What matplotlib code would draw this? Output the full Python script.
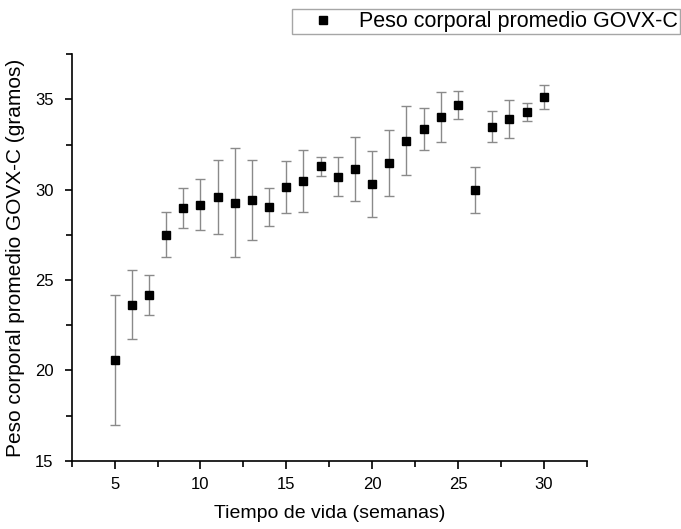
import matplotlib.pyplot as plt
from matplotlib.ticker import MultipleLocator

plt.rcParams['font.family'] = ['Liberation Sans', 'DejaVu Sans']

semanas = [5, 6, 7, 8, 9, 10, 11, 12, 13, 14, 15, 16, 17,
           18, 19, 20, 21, 22, 23, 24, 25, 26, 27, 28, 29, 30]
peso = [20.58, 23.64, 24.17, 27.51, 28.99, 29.18, 29.60, 29.29, 29.42,
        29.03, 30.16, 30.47, 31.30, 30.73, 31.13, 30.30, 31.50, 32.72,
        33.37, 34.03, 34.68, 30.01, 33.49, 33.92, 34.31, 35.14]
error = [3.6, 1.9, 1.12, 1.25, 1.08, 1.42, 2.03, 3.03, 2.2, 1.04, 1.43,
         1.72, 0.53, 1.1, 1.78, 1.82, 1.82, 1.92, 1.18, 1.38, 0.77, 1.27,
         0.86, 1.07, 0.51, 0.65]

fig = plt.figure(figsize=(6.81, 5.29), dpi=100)
ax = fig.add_axes([0.1053, 0.1291, 0.7562, 0.7683])

ax.errorbar(semanas, peso, yerr=error, fmt='none', ecolor='#8a8a8a',
            elinewidth=1, capsize=3.3, capthick=1, zorder=2)
ax.plot(semanas, peso, 's', color='black', markersize=5.8, zorder=3,
        label='Peso corporal promedio GOVX-C')

ax.set_xlim(2.5, 32.5)
ax.set_ylim(15, 37.5)
ax.xaxis.set_major_locator(MultipleLocator(5))
ax.xaxis.set_minor_locator(MultipleLocator(2.5))
ax.yaxis.set_major_locator(MultipleLocator(5))
ax.yaxis.set_minor_locator(MultipleLocator(2.5))

for s in ['top', 'right']:
    ax.spines[s].set_visible(False)
for s in ['left', 'bottom']:
    ax.spines[s].set_linewidth(1.2)

ax.tick_params(axis='x', which='major', length=6, width=1.2, pad=6, labelsize=12)
ax.tick_params(axis='x', which='minor', length=4, width=1.2)
ax.tick_params(axis='y', which='major', length=5, width=1.2, pad=8, labelsize=12)
ax.tick_params(axis='y', which='minor', length=4, width=1.2)

ax.set_xlabel('Tiempo de vida (semanas)', fontsize=14, labelpad=9)
ax.set_ylabel('Peso corporal promedio GOVX-C (gramos)', fontsize=15, labelpad=7)

fig.legend(loc='upper right', bbox_to_anchor=(680 / 681, 1 - 9 / 529),
           fontsize=15.5, frameon=True, fancybox=False, edgecolor='#909090',
           borderpad=0.1, borderaxespad=0, handlelength=2.7,
           handletextpad=0.3, numpoints=1)

fig.savefig('out.png', dpi=100)
